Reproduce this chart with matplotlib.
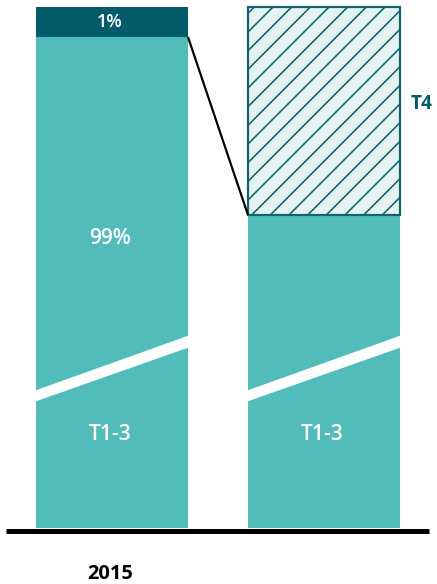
import matplotlib

matplotlib.use("Agg")

import matplotlib.pyplot as plt
from matplotlib.patches import Polygon

# bar heights are in drawn units (the axis is broken, so not to scale)
categories = ["2015", ""]
t13_heights = [491, 313]
t4_heights = [30, 208]
t13_labels = ["T1-3", "T1-3"]
share_labels = ["99%", "1%"]
t4_label = "T4"
# white diagonal break across both bars (low/high edge at left, at right)
break_left = [126, 137]
break_right = [181, 193]

TEAL = "#52BCBA"
DARK = "#045C6A"
HATCH_EDGE = "#11646F"
HATCH_FACE = "#E4F2F2"

DPI = 56
W_PX, H_PX = 437, 584
PX_PER_UNIT = 212


def pt(px):
    return px * 72 / DPI


plt.rcParams["font.family"] = ["Open Sans", "DejaVu Sans"]
plt.rcParams["hatch.linewidth"] = pt(1.6)

fig = plt.figure(figsize=(W_PX / DPI, H_PX / DPI), dpi=DPI)
ax = fig.add_axes([0, 0, 1, 1])
ax.set_xlim(-112 / PX_PER_UNIT, (W_PX - 112) / PX_PER_UNIT)
ax.set_ylim(-(H_PX - 528), 528)
ax.axis("off")

width = 152 / PX_PER_UNIT
xs = list(range(len(categories)))

ax.bar(xs, t13_heights, width=width, color=TEAL, linewidth=0)
ax.bar(xs[0], t4_heights[0], bottom=t13_heights[0], width=width,
       color=DARK, linewidth=0)
ax.bar(xs[1], t4_heights[1], bottom=t13_heights[1], width=width,
       facecolor=HATCH_FACE, edgecolor=HATCH_EDGE, hatch="/",
       linewidth=pt(2.2))

# break bands
for x in xs:
    x0, x1 = x - width / 2, x + width / 2
    band = Polygon([(x0 - 0.01, break_left[0]), (x0 - 0.01, break_left[1]),
                    (x1 + 0.01, break_right[1]), (x1 + 0.01, break_right[0])],
                   closed=True, facecolor="white", edgecolor="none", zorder=3)
    ax.add_patch(band)

# connector from the T4 slice to the zoomed bar
ax.plot([xs[0] + width / 2, xs[1] - width / 2],
        [t13_heights[0], t13_heights[1]],
        color="black", linewidth=pt(2.2), zorder=4, solid_capstyle="butt")

# baseline
ax.hlines(-2.5, (6 - 112) / PX_PER_UNIT, (429 - 112) / PX_PER_UNIT,
          color="black", linewidth=pt(5))

# labels
ax.text(xs[0] - 0.01, t13_heights[0] + t4_heights[0] / 2, share_labels[1],
        color="white", ha="center", va="center", fontsize=pt(18),
        fontweight="semibold", zorder=5)
ax.text(xs[0] - 0.01, 290, share_labels[0], color="white", ha="center",
        va="center", fontsize=pt(21), fontweight="semibold", zorder=5)
for x, lab in zip(xs, t13_labels):
    ax.text(x - 0.01, 93, lab, color="white", ha="center", va="center",
            fontsize=pt(21), fontweight="semibold", zorder=5)
ax.text((422 - 112) / PX_PER_UNIT, 424, t4_label, color=DARK, ha="center",
        va="center", fontsize=pt(19), fontweight="bold")
for x, cat in zip(xs, categories):
    ax.text(x - 0.01, -46, cat, color="black", ha="center", va="center",
            fontsize=pt(20), fontweight="bold")

fig.savefig("out.png", dpi=DPI)
plt.close(fig)
